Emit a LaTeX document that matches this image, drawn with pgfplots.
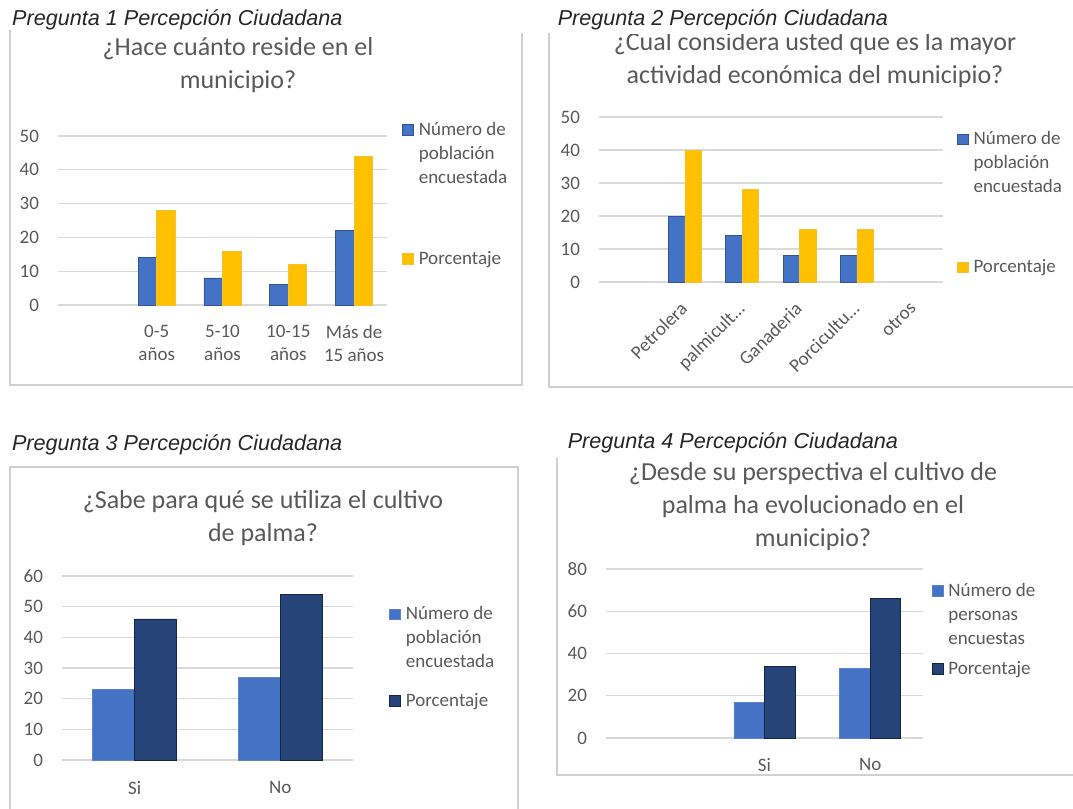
\documentclass[border=0pt]{standalone}
\usepackage{fontspec}
\setmainfont{Carlito}
\newfontfamily\arialfont{Liberation Sans}
\usepackage{pgfplots}
\pgfplotsset{compat=1.18}

\definecolor{txt}{HTML}{595959}
\definecolor{gridc}{HTML}{D9D9D9}
\definecolor{framec}{HTML}{D0D0D0}
\definecolor{blueA}{HTML}{4472C4}
\definecolor{blueEdge}{HTML}{2F5597}
\definecolor{blueSoft}{HTML}{5B84CC}
\definecolor{gold}{HTML}{FFC000}
\definecolor{goldEdge}{HTML}{F2C232}
\definecolor{navy}{HTML}{264478}
\definecolor{navyEdge}{HTML}{13254A}
\definecolor{head}{HTML}{262626}

\pgfplotsset{
  excel/.style={
    scale only axis, anchor=south west,
    ybar=0pt, ymin=0, enlarge y limits=false,
    axis line style={draw=none}, major tick length=0pt,
    ymajorgrids, grid style={gridc, line width=0.7pt},
    tick label style={font=\fontsize{9.5}{11.5}\selectfont, text=txt},
    /pgf/number format/assume math mode=true,
    yticklabel style={xshift=-6pt},
    legend image code/.code={\draw[##1] (0pt,0pt) rectangle (5.3pt,5.3pt);},
    legend style={draw=none, fill=none, anchor=north west, inner sep=0pt,
      font=\fontsize{9.5}{12}\selectfont, text=txt,
      nodes={inner sep=1pt}, cells={anchor=base west},
      /tikz/every odd column/.append style={column sep=1.5pt}},
  },
}
\newcommand{\ttl}{\fontsize{13}{16.5}\selectfont}
\newcommand{\hd}{\arialfont\itshape\fontsize{10.8}{13}\selectfont}

\begin{document}
\begin{tikzpicture}
\useasboundingbox (0,0) rectangle (536.5pt,-404.5pt);

% chart frames
\draw[framec, line width=0.7pt] (5pt,-15pt) -- (5pt,-192.5pt) -- (261pt,-192.5pt) -- (261pt,-16.5pt);
\draw[framec, line width=0.7pt] (274.5pt,-16.5pt) -- (274.5pt,-193.5pt) -- (540pt,-193.5pt);
\draw[framec, line width=0.7pt] (5pt,-410pt) -- (5pt,-233.5pt) -- (259pt,-233.5pt) -- (259pt,-410pt);
\draw[framec, line width=0.7pt] (278.5pt,-229pt) -- (278.5pt,-387.5pt) -- (540pt,-387.5pt);

% headings
\node[anchor=base west, inner sep=0pt, text=head, font=\hd] at (5.9pt,-12.5pt) {Pregunta 1 Percepción Ciudadana};
\node[anchor=base west, inner sep=0pt, text=head, font=\hd] at (278.7pt,-12.5pt) {Pregunta 2 Percepción Ciudadana};
\node[anchor=base west, inner sep=0pt, text=head, font=\hd] at (5.8pt,-225.3pt) {Pregunta 3 Percepción Ciudadana};
\node[anchor=base west, inner sep=0pt, text=head, font=\hd] at (283.7pt,-224.2pt) {Pregunta 4 Percepción Ciudadana};

% titles
\node[align=center, text=txt, inner sep=0pt, font=\ttl] at (119pt,-32.5pt) {¿Hace cuánto reside en el\\municipio?};
\begin{scope}
\clip (274pt,-17pt) rectangle (540pt,-100pt);
\node[align=center, text=txt, inner sep=0pt, font=\ttl] at (407.5pt,-30pt) {¿Cual considera usted que es la mayor\\actividad económica del municipio?};
\end{scope}
\node[align=center, text=txt, inner sep=0pt, font=\ttl] at (131.5pt,-259pt) {¿Sabe para qué se utiliza el cultivo\\de palma?};
\node[align=center, text=txt, inner sep=0pt, font=\ttl] at (406.5pt,-253.5pt) {¿Desde su perspectiva el cultivo de\\palma ha evolucionado en el\\municipio?};

% Pregunta 1
\begin{axis}[excel, at={(29pt,-152.5pt)}, width=164.5pt, height=84.5pt,
  ymax=50, ytick={0,10,...,50}, xmin=-0.5, xmax=4.5, bar width=9.25pt,
  xtick={1,2,3,4},
  xticklabels={{0-5\\años},{5-10\\años},{10-15\\años},{Más de\\15 años}},
  xticklabel style={align=center, yshift=-6.5pt},
  legend style={at={(1.0456,1.117)}, row sep=52.5pt}]
\addplot[fill=blueA, draw=blueEdge] coordinates {(1,14) (2,8) (3,6) (4,22)};
\addlegendentry{\begin{tabular}[t]{@{}l@{}}Número de\\población\\encuestada\end{tabular}}
\addplot[fill=gold, draw=goldEdge] coordinates {(1,28) (2,16) (3,12) (4,44)};
\addlegendentry{\strut Porcentaje}
\end{axis}

% Pregunta 2 (otros = 0 in both series)
\begin{axis}[excel, at={(299.5pt,-141pt)}, width=172pt, height=82.5pt,
  ymax=50, ytick={0,10,...,50}, xmin=-0.5, xmax=5.5, bar width=8.25pt,
  xtick={1,2,3,4,5},
  xticklabels={Petrolera,{palmicult\ldots},Ganaderia,{Porcicultu\ldots},otros},
  xticklabel style={xshift=-3pt, yshift=-4.5pt, rotate=45, anchor=north east},
  legend style={at={(1.040,0.948)}, row sep=52.1pt}]
\addplot[fill=blueA, draw=blueEdge] coordinates {(1,20) (2,14) (3,8) (4,8)};
\addlegendentry{\begin{tabular}[t]{@{}l@{}}Número de\\población\\encuestada\end{tabular}}
\addplot[fill=gold, draw=goldEdge] coordinates {(1,40) (2,28) (3,16) (4,16)};
\addlegendentry{\strut Porcentaje}
\end{axis}

% Pregunta 3
\begin{axis}[excel, at={(31pt,-380pt)}, width=145.5pt, height=92pt,
  ymax=60, ytick={0,10,...,60}, xmin=-0.5, xmax=1.5, bar width=21pt,
  xtick={0,1}, xticklabels={Si,No},
  xticklabel style={yshift=-7pt},
  legend style={at={(1.124,0.866)}, row sep=31.3pt}]
\addplot[fill=blueA, draw=blueSoft] coordinates {(0,23) (1,27)};
\addlegendentry{\begin{tabular}[t]{@{}l@{}}Número de\\población\\encuestada\end{tabular}}
\addplot[fill=navy, draw=navyEdge] coordinates {(0,46) (1,54)};
\addlegendentry{\strut Porcentaje}
\end{axis}

% Pregunta 4
\begin{axis}[excel, at={(303pt,-369pt)}, width=158.5pt, height=84.5pt,
  ymax=80, ytick={0,20,...,80}, xmin=-0.5, xmax=2.5, bar width=15.25pt,
  xtick={1,2}, xticklabels={Si,No},
  xticklabel style={yshift=-6.5pt},
  legend style={at={(1.027,0.951)}, row sep=27pt}]
\addplot[fill=blueA, draw=blueSoft] coordinates {(1,17) (2,33)};
\addlegendentry{\begin{tabular}[t]{@{}l@{}}Número de\\personas\\encuestas\end{tabular}}
\addplot[fill=navy, draw=navyEdge] coordinates {(1,34) (2,66)};
\addlegendentry{\strut Porcentaje}
\end{axis}
\end{tikzpicture}
\end{document}
